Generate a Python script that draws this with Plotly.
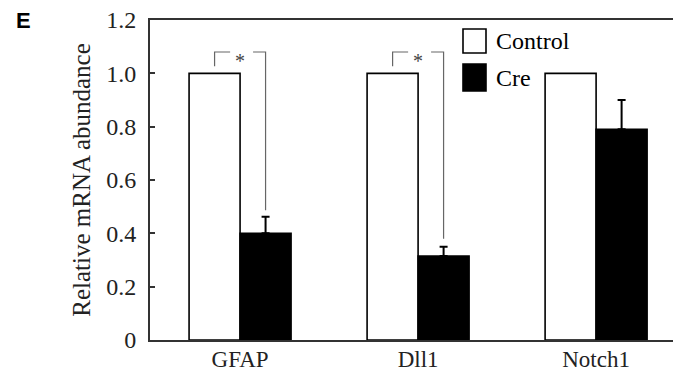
import plotly.graph_objects as go

# ---- data ----
genes = ["GFAP", "Dll1", "Notch1"]
control_vals = [1.0, 1.0, 1.0]
cre_vals = [0.40, 0.315, 0.79]
cre_err = [0.062, 0.035, 0.11]
y_tickvals = [0, 0.2, 0.4, 0.6, 0.8, 1.0, 1.2]
y_ticktext = ["0", "0.2", "0.4", "0.6", "0.8", "1.0", "1.2"]
sig_groups = [0, 1]          # indices of genes with significance brackets
sig_bracket_top = 1.08
sig_left_bottom = 1.027
sig_right_bottom = [0.487, 0.38]

FONT = "Liberation Serif, Times New Roman, serif"
W, H = 673, 372
ML, MR, MT, MB = 150, 0, 20, 32
xpos = list(range(len(genes)))
half = 0.1432  # half of bar width, in category units (bargap below)

fig = go.Figure()
fig.add_trace(go.Bar(
    x=xpos, y=control_vals, name="Control",
    marker=dict(color="white", line=dict(color="black", width=1.6)),
))
fig.add_trace(go.Bar(
    x=xpos, y=cre_vals, name="Cre",
    marker=dict(color="black", line=dict(color="black", width=1.6)),
    error_y=dict(type="data", array=cre_err, arrayminus=[0]*len(cre_err),
                 symmetric=False, color="black", thickness=2, width=4),
))

# significance brackets
bx, by = [], []
for gi, rb in zip(sig_groups, sig_right_bottom):
    l = gi - half
    r = gi + half
    bx += [l, l, gi - 0.056, None, gi + 0.073, r, r, None]
    by += [sig_left_bottom, sig_bracket_top, sig_bracket_top, None,
           sig_bracket_top, sig_bracket_top, rb, None]
fig.add_trace(go.Scatter(x=bx, y=by, mode="lines", line=dict(color="#666", width=1.2),
                         hoverinfo="skip", showlegend=False))
for gi in sig_groups:
    fig.add_annotation(x=gi, y=sig_bracket_top, text="*", showarrow=False,
                       font=dict(family=FONT, size=20, color="#444"), yanchor="middle", yshift=-9)

# legend drawn as boxes + labels
def px2paper(px, py):
    return (px - ML) / (W - ML - MR), (H - MB - py) / (H - MT - MB)

legend_items = [("Control", "white", 29, 53), ("Cre", "black", 64, 91)]
for label, col, y0p, y1p in legend_items:
    x0, y0 = px2paper(463, y1p)
    x1, y1 = px2paper(486, y0p)
    fig.add_shape(type="rect", xref="paper", yref="paper", x0=x0, x1=x1, y0=y0, y1=y1,
                  fillcolor=col, line=dict(color="black", width=1.6))
    tx, ty = px2paper(494, (y0p + y1p) / 2)
    fig.add_annotation(xref="paper", yref="paper", x=tx, y=ty, text=label, showarrow=False,
                       xanchor="left", yanchor="middle",
                       font=dict(family=FONT, size=24, color="black"))

# panel letter
fig.add_annotation(xref="paper", yref="paper", x=px2paper(14, 0)[0], y=px2paper(0, 20)[1],
                   text="<b>E</b>", showarrow=False, xanchor="left", yanchor="middle",
                   font=dict(family="Liberation Sans, Arial, sans-serif", size=22, color="black"))

fig.update_layout(
    width=W, height=H,
    margin=dict(l=ML, r=MR, t=MT, b=MB, pad=0, autoexpand=False),
    plot_bgcolor="white", paper_bgcolor="white",
    barmode="group", bargap=0.427, bargroupgap=0,
    showlegend=False,
    font=dict(family=FONT, size=24, color="#222"),
    xaxis=dict(
        tickmode="array", tickvals=xpos, ticktext=genes,
        range=[-0.506, 2.432], showgrid=False, zeroline=False,
        showline=True, linecolor="#333", linewidth=2, mirror=True, ticks="",
        ticklabelstandoff=-3,
        tickfont=dict(family=FONT, size=23, color="#222"),
    ),
    yaxis=dict(
        range=[0, 1.2], tickmode="array", tickvals=y_tickvals, ticktext=y_ticktext,
        showgrid=False, zeroline=False, showline=True, linecolor="#333", linewidth=2,
        ticks="inside", ticklen=5, tickwidth=1.5, tickcolor="#333",
        ticklabelstandoff=7,
        tickfont=dict(family=FONT, size=24, color="#222"),
        title=dict(text="Relative mRNA abundance", standoff=8,
                   font=dict(family=FONT, size=25, color="#222")),
    ),
)

fig.write_html("out.html", config={"displayModeBar": False},
               post_script="document.body.style.margin='0';document.body.style.overflow='hidden';")
